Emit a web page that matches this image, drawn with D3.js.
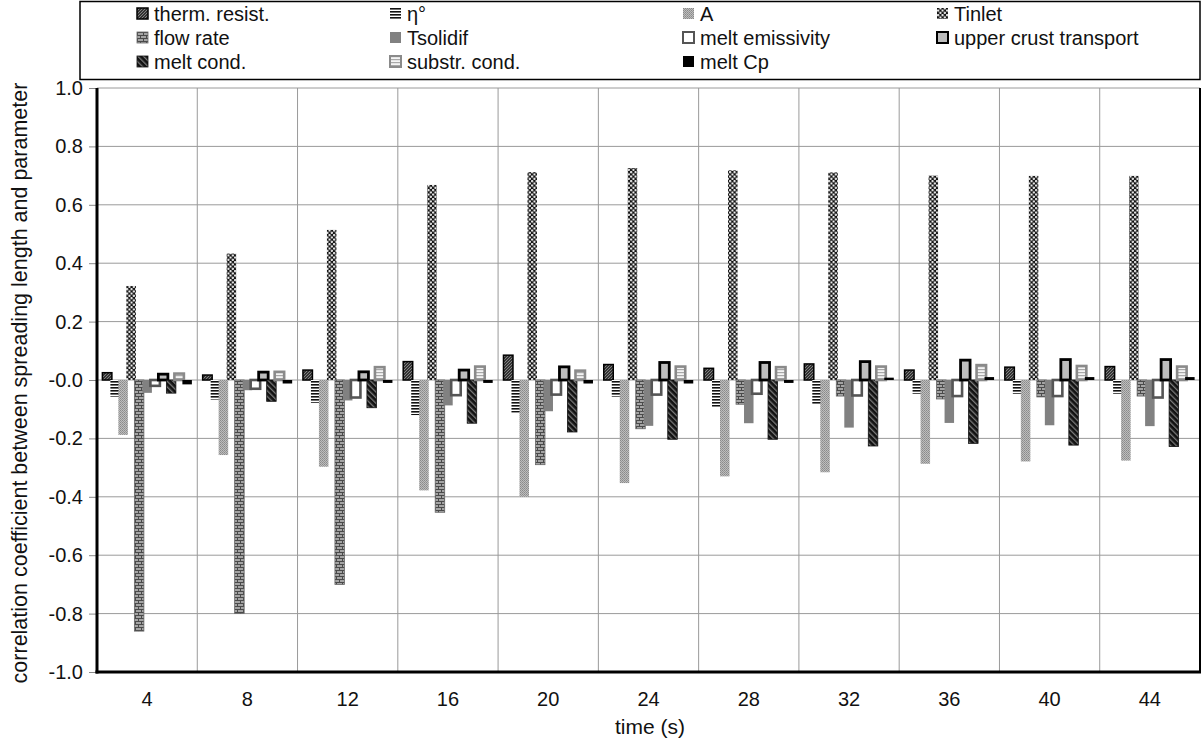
<!DOCTYPE html>
<html>
<head>
<meta charset="utf-8">
<script src="https://cdn.jsdelivr.net/npm/d3@7"></script>
<style>
  html, body { margin: 0; padding: 0; background: #fff; }
  svg { display: block; font-family: "Liberation Sans", Arial, Helvetica, sans-serif; }
</style>
</head>
<body>
<div id="chart"></div>
<script>
// --- Données
const times = [4, 8, 12, 16, 20, 24, 28, 32, 36, 40, 44];
const seriesNames = ["therm. resist.", "η°", "A", "Tinlet", "flow rate", "Tsolidif",
  "melt emissivity", "upper crust transport", "melt cond.", "substr. cond.", "melt Cp"];

const thermResist = [0.025, 0.017, 0.034, 0.063, 0.085, 0.053, 0.040, 0.055, 0.034, 0.044, 0.046];
const eta = [-0.057, -0.067, -0.078, -0.120, -0.112, -0.057, -0.092, -0.082, -0.047, -0.047, -0.047];
const aParam = [-0.188, -0.257, -0.297, -0.378, -0.400, -0.353, -0.330, -0.316, -0.287, -0.279, -0.276];
const tInlet = [0.322, 0.433, 0.514, 0.668, 0.712, 0.726, 0.718, 0.711, 0.700, 0.699, 0.699];
const flowRate = [-0.860, -0.800, -0.700, -0.453, -0.290, -0.167, -0.083, -0.055, -0.065, -0.058, -0.055];
const tSolidif = [-0.044, -0.035, -0.070, -0.087, -0.107, -0.157, -0.148, -0.163, -0.147, -0.155, -0.158];
const meltEmissivity = [-0.020, -0.030, -0.060, -0.052, -0.050, -0.050, -0.047, -0.053, -0.055, -0.055, -0.060];
const upperCrust = [0.020, 0.027, 0.028, 0.034, 0.045, 0.060, 0.060, 0.063, 0.068, 0.070, 0.070];
const meltCond = [-0.045, -0.073, -0.095, -0.148, -0.178, -0.203, -0.203, -0.226, -0.217, -0.223, -0.228];
const substrCond = [0.022, 0.028, 0.044, 0.046, 0.032, 0.046, 0.044, 0.046, 0.051, 0.048, 0.046];
const meltCp = [-0.015, -0.012, -0.010, -0.010, -0.012, -0.012, -0.010, 0.008, 0.010, 0.010, 0.010];

const seriesValues = [thermResist, eta, aParam, tInlet, flowRate, tSolidif,
  meltEmissivity, upperCrust, meltCond, substrCond, meltCp];

const yTicks = [-1.0, -0.8, -0.6, -0.4, -0.2, 0.0, 0.2, 0.4, 0.6, 0.8, 1.0];
const yTickLabels = ["-1.0", "-0.8", "-0.6", "-0.4", "-0.2", "-0.0", "0.2", "0.4", "0.6", "0.8", "1.0"];

// --- Dimensions
const W = 1204, H = 738;
const plot = { left: 97, right: 1200, top: 88, bottom: 672 };

const svg = d3.select("#chart").append("svg")
  .attr("width", W).attr("height", H);

// --- Motifs (patterns)
const defs = svg.append("defs");

function pat(id, w, h, draw, transform) {
  const p = defs.append("pattern").attr("id", id)
    .attr("patternUnits", "userSpaceOnUse").attr("width", w).attr("height", h);
  if (transform) p.attr("patternTransform", transform);
  draw(p);
}
pat("p-therm", 3, 3, p => {
  p.append("rect").attr("width", 3).attr("height", 3).attr("fill", "#333");
  p.append("path").attr("d", "M0,3L3,0").attr("stroke", "#8a8a8a").attr("stroke-width", 0.9);
});
pat("p-eta", 4, 3, p => {
  p.append("rect").attr("width", 4).attr("height", 3).attr("fill", "#fff");
  p.append("rect").attr("width", 4).attr("height", 1.6).attr("fill", "#111");
});
pat("p-a", 2, 2, p => {
  p.append("rect").attr("width", 2).attr("height", 2).attr("fill", "#bdbdbd");
  p.append("rect").attr("width", 1).attr("height", 1).attr("fill", "#8a8a8a");
  p.append("rect").attr("x", 1).attr("y", 1).attr("width", 1).attr("height", 1).attr("fill", "#969696");
});
pat("p-tinlet", 4.5, 4.5, p => {
  p.append("rect").attr("width", 4.5).attr("height", 4.5).attr("fill", "#111");
  p.append("circle").attr("cx", 1.125).attr("cy", 1.125).attr("r", 1.15).attr("fill", "#fff");
  p.append("circle").attr("cx", 3.375).attr("cy", 3.375).attr("r", 1.15).attr("fill", "#fff");
});
pat("p-flow", 6, 6, p => {
  p.append("rect").attr("width", 6).attr("height", 6).attr("fill", "#a4a4a4");
  p.append("path").attr("d", "M0,0.5H6M0,3.5H6M0.5,0.5V3.5M3.5,3.5V6.5")
    .attr("stroke", "#4a4a4a").attr("stroke-width", 1).attr("fill", "none");
});
pat("p-meltcond", 4, 4, p => {
  p.append("rect").attr("width", 4).attr("height", 4).attr("fill", "#111");
  p.append("rect").attr("width", 1.3).attr("height", 4).attr("fill", "#7a7a7a");
}, "rotate(-45)");
pat("p-substr", 4, 3, p => {
  p.append("rect").attr("width", 4).attr("height", 3).attr("fill", "#f4f4f4");
  p.append("rect").attr("width", 4).attr("height", 1.2).attr("fill", "#a8a8a8");
});

const seriesStyles = [
  { fill: "url(#p-therm)", stroke: "#000", sw: 1.5 },
  { fill: "url(#p-eta)", stroke: "none", sw: 0 },
  { fill: "url(#p-a)", stroke: "none", sw: 0 },
  { fill: "url(#p-tinlet)", stroke: "none", sw: 0 },
  { fill: "url(#p-flow)", stroke: "#666", sw: 0.8 },
  { fill: "#818181", stroke: "none", sw: 0 },
  { fill: "#fff", stroke: "#555", sw: 2.6 },
  { fill: "#bdbdbd", stroke: "#000", sw: 2.8 },
  { fill: "url(#p-meltcond)", stroke: "#111", sw: 0.8 },
  { fill: "url(#p-substr)", stroke: "#8a8a8a", sw: 2.6 },
  { fill: "#000", stroke: "none", sw: 0 }
];

// --- Échelles
const x = d3.scaleBand().domain(times).range([plot.left, plot.right]).padding(0);
const y = d3.scaleLinear().domain([-1, 1]).range([plot.bottom, plot.top]);
const xs = d3.scalePoint().domain(d3.range(seriesNames.length))
  .range([x.bandwidth() / 2 - 40, x.bandwidth() / 2 + 40]);
const barW = 9.5;

// --- Grille
const grid = svg.append("g");
grid.selectAll("line.h").data(yTicks).join("line")
  .attr("x1", plot.left).attr("x2", plot.right)
  .attr("y1", d => y(d)).attr("y2", d => y(d))
  .attr("stroke", "#9a9a9a").attr("stroke-width", 1);
grid.selectAll("line.v").data(times.slice(1)).join("line")
  .attr("x1", d => x(d)).attr("x2", d => x(d))
  .attr("y1", plot.top).attr("y2", plot.bottom)
  .attr("stroke", "#9a9a9a").attr("stroke-width", 1);

// --- Barres
seriesValues.forEach((vals, si) => {
  const st = seriesStyles[si];
  const g = svg.append("g");
  g.selectAll("rect").data(vals.map((v, i) => ({ t: times[i], v }))).join("rect")
    .attr("x", d => x(d.t) + xs(si) - barW / 2)
    .attr("width", barW)
    .attr("y", d => Math.min(y(d.v), y(0)))
    .attr("height", d => Math.abs(y(d.v) - y(0)))
    .attr("fill", st.fill)
    .attr("stroke", st.stroke)
    .attr("stroke-width", st.sw);
});

// --- Cadre et axes
svg.append("line").attr("x1", plot.right).attr("x2", plot.right)
  .attr("y1", plot.top).attr("y2", plot.bottom + 1)
  .attr("stroke", "#000").attr("stroke-width", 2);

const yAxis = d3.axisLeft(y).tickValues(yTicks)
  .tickFormat((d, i) => yTickLabels[i]).tickSize(8).tickPadding(6);
const gy = svg.append("g").attr("transform", `translate(${plot.left},0)`).call(yAxis);
gy.select(".domain").remove();
gy.selectAll(".tick line").attr("stroke", "#888");
gy.selectAll(".tick text").attr("font-size", 20).attr("fill", "#111")
  .attr("font-family", "Liberation Sans, Arial, sans-serif");

const xAxis = d3.axisBottom(x).tickSize(0).tickPadding(20);
const gx = svg.append("g").attr("transform", `translate(0,${plot.bottom})`).call(xAxis);
gx.select(".domain").remove();
gx.selectAll(".tick text").attr("font-size", 20).attr("fill", "#111")
  .attr("font-family", "Liberation Sans, Arial, sans-serif");

svg.append("line").attr("x1", plot.left).attr("x2", plot.left)
  .attr("y1", plot.top).attr("y2", plot.bottom + 1.5)
  .attr("stroke", "#000").attr("stroke-width", 3);
svg.append("line").attr("x1", plot.left - 1.5).attr("x2", plot.right + 1)
  .attr("y1", plot.bottom).attr("y2", plot.bottom)
  .attr("stroke", "#000").attr("stroke-width", 3);

// --- Titres des axes
svg.append("text")
  .attr("transform", `translate(27,383) rotate(-90)`)
  .attr("text-anchor", "middle").attr("font-size", 21.5).attr("fill", "#111")
  .text("correlation coefficient between spreading length and parameter");
svg.append("text")
  .attr("x", 650).attr("y", 734)
  .attr("text-anchor", "middle").attr("font-size", 21).attr("fill", "#111")
  .text("time (s)");

// --- Légende
const legendCols = [137, 390, 683, 937];
const legendRows = [14, 38, 62];
svg.append("rect").attr("x", 80).attr("y", 1.5).attr("width", 1120).attr("height", 78)
  .attr("fill", "#fff").attr("stroke", "#000").attr("stroke-width", 1.5);
const lg = svg.append("g").selectAll("g").data(seriesNames).join("g")
  .attr("transform", (d, i) => `translate(${legendCols[i % 4]},${legendRows[Math.floor(i / 4)]})`);
lg.append("rect")
  .attr("x", 0).attr("y", -6).attr("width", 11).attr("height", 11)
  .attr("fill", (d, i) => seriesStyles[i].fill)
  .attr("stroke", (d, i) => seriesStyles[i].stroke)
  .attr("stroke-width", (d, i) => Math.min(seriesStyles[i].sw, 2));
lg.append("text")
  .attr("x", 17).attr("y", 0).attr("dy", "0.35em")
  .attr("font-size", 20).attr("fill", "#111")
  .text(d => d);
</script>
</body>
</html>
